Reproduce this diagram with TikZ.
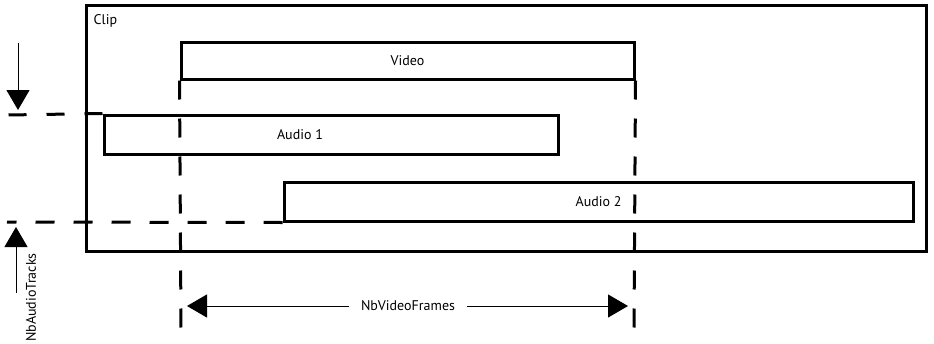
\documentclass[tikz,border=0pt]{standalone}
\usepackage{fontspec}
\setmainfont{PT Sans}
\usepackage{xcolor}
\usepackage{tikz}
\usetikzlibrary{arrows.meta,positioning,calc}
\tikzset{
  box-style/.style = {
    rectangle, draw, line width=3pt,
    minimum width=#1, inner sep=0pt
  },
  guide-style/.style = {
    draw, line width=3pt, dash pattern=on 19pt off 19pt
  },
  measure-style/.style = {
    draw, line width=1pt,
    -{Triangle[width=23pt,length=20pt]}
  },
  text-style/.style = {
    font=\fontsize{14}{16}\selectfont, inner sep=0pt
  }
}
\begin{document}
\begin{tikzpicture}[x=1pt,y=-1pt]
  \useasboundingbox (0,0) rectangle (934,343);
  % boxes
  \node [box-style=840pt, minimum height=246pt] (clip) at (506,128) {};
  \node [text-style, anchor=north west] (cliplabel) at ([xshift=9pt,yshift=-11pt]clip.north west) {Clip};
  \node [box-style=453pt, minimum height=37pt, text-style] (video) at (407.5,60.5) {Video};
  \node [box-style=454pt, minimum height=39pt] (audioa) at (331,134.5) {};
  \node [text-style] (audioalabel) at ([xshift=-31pt]audioa.center) {Audio 1};
  \node [box-style=629pt, minimum height=39pt, text-style] (audiob) at (598.5,201.5) {Audio 2};

  % guides
  \coordinate (vl) at (181,328);
  \coordinate (vr) at (634,328);
  \coordinate (ha) at (8,115);
  \coordinate (hb) at (7,222);
  \path [guide-style] (video.south west) -- (vl);
  \path [guide-style] (video.south east) -- (vr);
  \path [guide-style, dash pattern=on 18pt off 20pt] (audioa.north west) -- (ha);
  \path [guide-style] (audiob.south west) -- (hb);

  % NbAudioTracks
  \coordinate (ta) at (18,43);
  \coordinate (tb) at (18,110);
  \coordinate (ba) at (16,293);
  \coordinate (bb) at (16,227);
  \path [measure-style] (ta) -- (tb);
  \path [measure-style] (ba) -- (bb);
  \node [text-style, rotate=90, anchor=west] (tracks) at (31,342) {NbAudioTracks};

  % NbVideoFrames
  \coordinate (fl) at (187,306);
  \coordinate (fr) at (628,306);
  \node [text-style, fill=white, inner xsep=12pt, inner ysep=2pt] (frames) at (408,306) {NbVideoFrames};
  \path [measure-style] (frames.west) -- (fl);
  \path [measure-style] (frames.east) -- (fr);
\end{tikzpicture}
\end{document}
